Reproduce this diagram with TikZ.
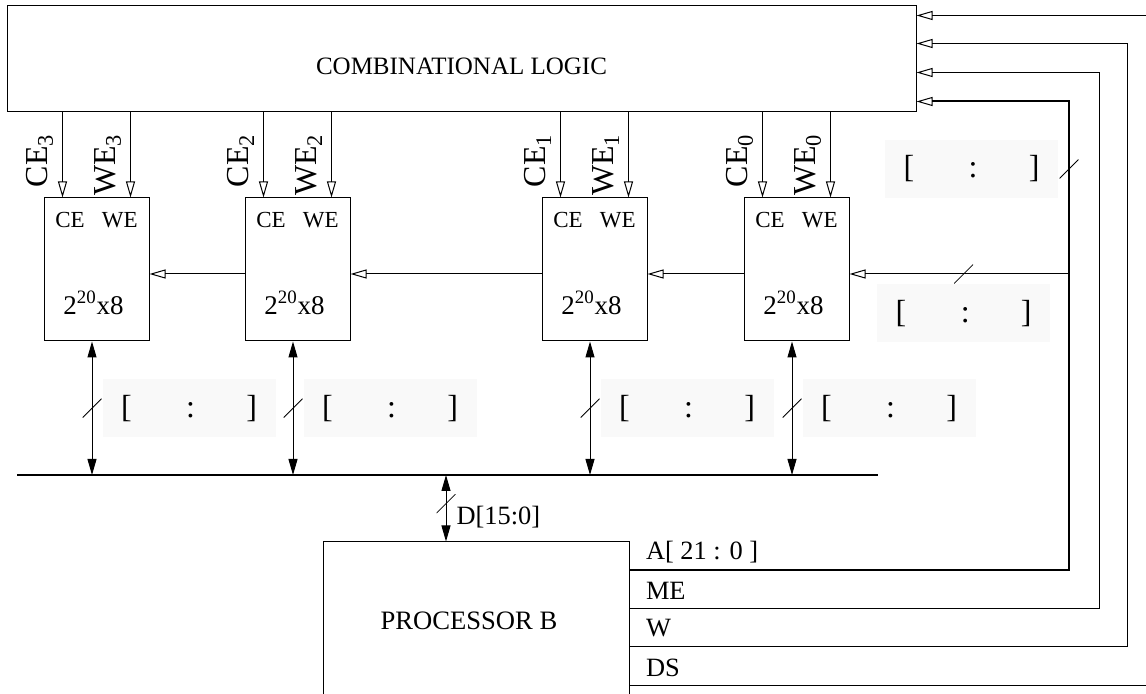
\documentclass[tikz,border=0pt]{standalone}
\usepackage{fontspec}
\setmainfont{Liberation Serif}
\usetikzlibrary{arrows.meta, positioning}

\begin{document}
\begin{tikzpicture}[x=0.5pt, y=-0.5pt, line width=0.5pt,
  mem/.style={draw, minimum width=52.5pt, minimum height=71.5pt, inner sep=0pt,
    label={[font=\fontsize{11.5}{13}\selectfont, anchor=center, yshift=-11.5pt]north:CE\hspace{0.75em}WE},
    label={[font=\fontsize{13.5}{15}\selectfont, anchor=base, xshift=-1.5pt, yshift=-16.75pt]center:2\textsuperscript{20}x8}},
  sig/.style={-{Triangle[open, length=8pt, width=4.5pt, line width=0.5pt]}},
  dat/.style={{Triangle[length=8pt, width=4.5pt]}-{Triangle[length=8pt, width=4.5pt]}},
  buscut/.style={minimum size=9.5pt, inner sep=0pt,
    path picture={\draw[-, line width=0.4pt] (path picture bounding box.south west) -- (path picture bounding box.north east);}},
  rng/.style={fill=gray!5, minimum width=86.5pt, minimum height=29pt, inner sep=0pt, font=\fontsize{16}{18}\selectfont},
  lbl/.style={font=\fontsize{13.2}{15}\selectfont, inner sep=1pt},
  tag/.style={rotate=90, inner sep=0pt, font=\fontsize{16}{18}\selectfont}]
  \useasboundingbox (0,0) rectangle (1146,694);
  \clip (0,0) rectangle (1146,694);

  \node[draw, minimum width=454.5pt, minimum height=53pt,
    label={[font=\fontsize{12.5}{15}\selectfont, anchor=center, yshift=-3.5pt]center:COMBINATIONAL LOGIC}] (logic) at (461.5,59) {};

  % memory chips
  \node[mem] (m0) at (796.5,269.5) {};
  \node[mem, left=48pt of m0] (m1) {};
  \node[mem, left=95.5pt of m1] (m2) {};
  \node[mem, left=47.5pt of m2] (m3) {};

  \node[draw, minimum width=153pt, minimum height=109pt,
    label={[lbl, font=\fontsize{13.3}{15}\selectfont, anchor=center, xshift=-3.5pt, yshift=15pt]center:PROCESSOR B}] (proc) at (476,651) {};

  % chip enables and write enables
  \coordinate (ce3) at ([xshift=-17pt]m3.north); \coordinate (we3) at ([xshift=17pt]m3.north);
  \coordinate (ce2) at ([xshift=-17pt]m2.north); \coordinate (we2) at ([xshift=17pt]m2.north);
  \coordinate (ce1) at ([xshift=-17pt]m1.north); \coordinate (we1) at ([xshift=17pt]m1.north);
  \coordinate (ce0) at ([xshift=-17pt]m0.north); \coordinate (we0) at ([xshift=17pt]m0.north);
  \draw[sig] (ce3 |- logic.south) -- (ce3);
  \draw[sig] (we3 |- logic.south) -- (we3);
  \draw[sig] (ce2 |- logic.south) -- (ce2);
  \draw[sig] (we2 |- logic.south) -- (we2);
  \draw[sig] (ce1 |- logic.south) -- (ce1);
  \draw[sig] (we1 |- logic.south) -- (we1);
  \draw[sig] (ce0 |- logic.south) -- (ce0);
  \draw[sig] (we0 |- logic.south) -- (we0);
  \path (ce3 |- logic.south) ++(-4.5pt,-10.5pt) node[tag, anchor=south east] {CE\textsubscript{3}};
  \path (we3 |- logic.south) ++(-4.5pt,-10.5pt) node[tag, anchor=south east] {WE\textsubscript{3}};
  \path (ce2 |- logic.south) ++(-4.5pt,-10.5pt) node[tag, anchor=south east] {CE\textsubscript{2}};
  \path (we2 |- logic.south) ++(-4.5pt,-10.5pt) node[tag, anchor=south east] {WE\textsubscript{2}};
  \path (ce1 |- logic.south) ++(-4.5pt,-10.5pt) node[tag, anchor=south east] {CE\textsubscript{1}};
  \path (we1 |- logic.south) ++(-4.5pt,-10.5pt) node[tag, anchor=south east] {WE\textsubscript{1}};
  \path (ce0 |- logic.south) ++(-4.5pt,-10.5pt) node[tag, anchor=south east] {CE\textsubscript{0}};
  \path (we0 |- logic.south) ++(-4.5pt,-10.5pt) node[tag, anchor=south east] {WE\textsubscript{0}};

  % address chain
  \draw[sig] ([yshift=-2.25pt]m0.west) -- ([yshift=-2.25pt]m1.east);
  \draw[sig] ([yshift=-2.25pt]m1.west) -- ([yshift=-2.25pt]m2.east);
  \draw[sig] ([yshift=-2.25pt]m2.west) -- ([yshift=-2.25pt]m3.east);

  % data bus
  \coordinate (busL) at (17,475);
  \coordinate (busR) at (878,475);
  \draw[line width=1.2pt] (busL) -- (busR);
  \coordinate (d3) at ([xshift=-2.25pt]m3.south);
  \coordinate (d2) at ([xshift=-2.25pt]m2.south);
  \coordinate (d1) at ([xshift=-2.25pt]m1.south);
  \coordinate (d0) at ([xshift=-2.25pt]m0.south);
  \draw[dat] (d3) -- node[buscut] (c3) {} (d3 |- busL);
  \draw[dat] (d2) -- node[buscut] (c2) {} (d2 |- busL);
  \draw[dat] (d1) -- node[buscut] (c1) {} (d1 |- busL);
  \draw[dat] (d0) -- node[buscut] (c0) {} (d0 |- busL);
  \node[rng, right=0pt of c3] {[\hspace{1.7em}:\hspace{1.6em}]};
  \node[rng, right=0pt of c2] {[\hspace{1.7em}:\hspace{1.6em}]};
  \node[rng, right=0pt of c1] {[\hspace{1.7em}:\hspace{1.6em}]};
  \node[rng, right=0pt of c0] {[\hspace{1.7em}:\hspace{1.6em}]};

  \coordinate (pd) at ([xshift=-15pt]proc.north);
  \draw[dat] (pd |- busL) -- node[buscut, pos=0.43] {} node[lbl, pos=0.63, right=4pt] {D[15:0]} (pd);

  % processor outputs
  \coordinate (pinA) at ([yshift=-14.5pt]proc.north east);
  \coordinate (pinME) at ([yshift=-33.5pt]proc.north east);
  \coordinate (pinW) at ([yshift=-52.5pt]proc.north east);
  \coordinate (pinDS) at ([yshift=-72pt]proc.north east);
  \coordinate (inA) at ([yshift=-48pt]logic.north east);
  \coordinate (inME) at ([yshift=-33.5pt]logic.north east);
  \coordinate (inW) at ([yshift=-19pt]logic.north east);
  \coordinate (inDS) at ([yshift=-5pt]logic.north east);
  \coordinate (xA) at (1069,0);
  \coordinate (xME) at (1099,0);
  \coordinate (xW) at (1127,0);
  \coordinate (xDS) at (1160,0);

  \draw[sig, line width=1pt] (pinA) -- (pinA -| xA) -- node[buscut, pos=0.856] (cA) {} (inA -| xA) -- (inA);
  \draw[sig] (pinME) -- (pinME -| xME) -- (inME -| xME) -- (inME);
  \draw[sig] (pinW) -- (pinW -| xW) -- (inW -| xW) -- (inW);
  \draw (pinDS) -- (pinDS -| xDS);
  \draw[sig] (inDS -| xDS) -- (inDS);
  \node[rng, left=0pt of cA] {[\hspace{1.7em}:\hspace{1.6em}]};

  \coordinate (m0in) at ([yshift=-2.25pt]m0.east);
  \draw[sig] (m0in -| xA) -- node[buscut, pos=0.48] (cB) {} (m0in);
  \node[rng, below=0pt of cB] {[\hspace{1.7em}:\hspace{1.6em}]};

  \node[lbl, anchor=west] at ([shift={(7pt,9pt)}]pinA) {A[ 21 : 0 ]};
  \node[lbl, anchor=west] at ([shift={(7pt,9pt)}]pinME) {ME};
  \node[lbl, anchor=west] at ([shift={(7pt,9pt)}]pinW) {W};
  \node[lbl, anchor=west] at ([shift={(7pt,9pt)}]pinDS) {DS};
\end{tikzpicture}
\end{document}
